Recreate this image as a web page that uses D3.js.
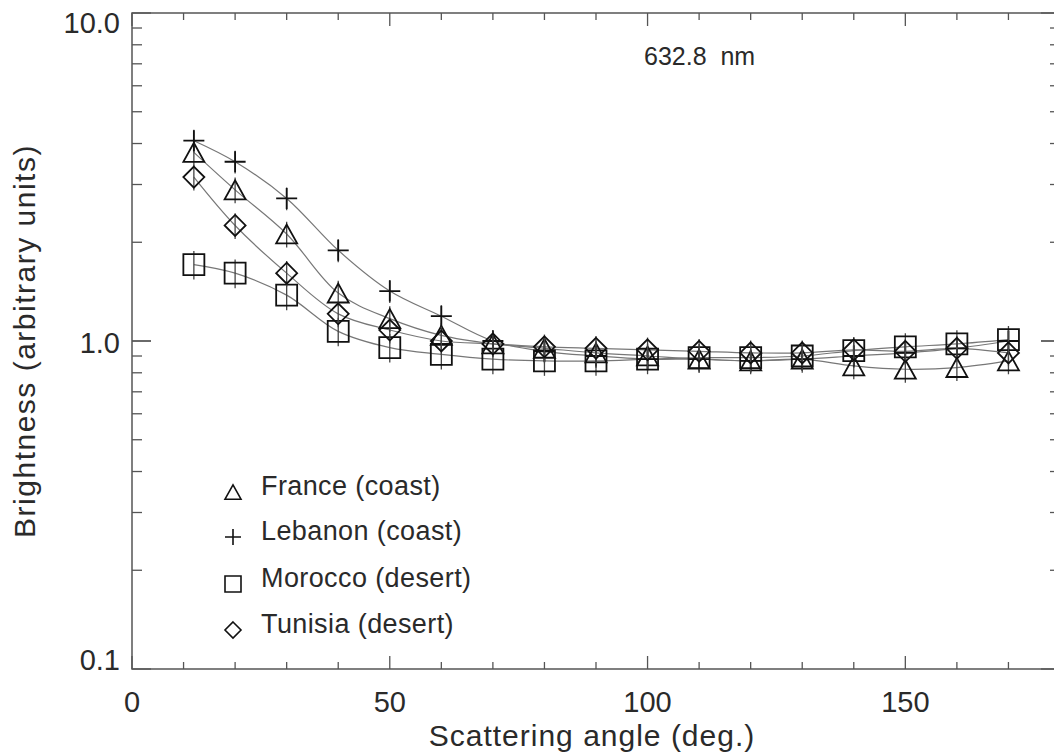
<!DOCTYPE html>
<html>
<head>
<meta charset="utf-8">
<script src="https://cdn.jsdelivr.net/npm/d3@7"></script>
<style>
  body { margin: 0; background: #fff; }
  svg { display: block; }
  text { font-family: "Liberation Sans", Arial, sans-serif; fill: #2a2a2a; }
</style>
</head>
<body>
<div class="chart"></div>
<script>
// scattering angles (deg.)
var angles = [12, 20, 30, 40, 50, 60, 70, 80, 90, 100, 110, 120, 130, 140, 150, 160, 170];

// brightness, one array per site
var france  = [3.76, 2.89, 2.12, 1.40, 1.17, 1.04, 0.98, 0.95, 0.92, 0.90, 0.88, 0.87, 0.88, 0.84, 0.82, 0.83, 0.87];
var lebanon = [4.08, 3.52, 2.72, 1.89, 1.42, 1.19, 1.00, 0.93, 0.90, 0.88, 0.88, 0.87, 0.88, 0.90, 0.92, 0.95, 1.00];
var morocco = [1.71, 1.61, 1.38, 1.07, 0.955, 0.91, 0.88, 0.87, 0.87, 0.88, 0.89, 0.89, 0.90, 0.935, 0.96, 0.98, 1.01];
var tunisia = [3.16, 2.25, 1.61, 1.21, 1.08, 1.00, 0.98, 0.96, 0.95, 0.94, 0.93, 0.92, 0.92, 0.94, 0.93, 0.95, 0.92];

var seriesNames   = ["France (coast)", "Lebanon (coast)", "Morocco (desert)", "Tunisia (desert)"];
var seriesSymbols = ["triangle", "plus", "square", "diamond"];
var seriesRelErr  = [0.09, 0.08, 0.10, 0.09];   // relative half-length of the error bars

var xTicks = [0, 50, 100, 150];
var yTicks = [0.1, 1.0, 10.0];
var yTickLabels = ["0.1", "1.0", "10.0"];

var series = [france, lebanon, morocco, tunisia].map(function(vals, i) {
  return {
    name: seriesNames[i],
    symbol: seriesSymbols[i],
    err: seriesRelErr[i],
    points: vals.map(function(v, j) { return {angle: angles[j], value: v}; })
  };
});

var W = 1054, H = 756;
var margin = {top: 13, right: -6, bottom: 87, left: 132};
var width = W - margin.left - margin.right,
    height = H - margin.top - margin.bottom;

var xScale = d3.scaleLinear().domain([0, 180]).range([0, width]);
var yScale = d3.scaleLog().domain([0.1, 10]).range([height, 0]);

var svg = d3.select(".chart").append("svg")
    .attr("width", W)
    .attr("height", H)
  .append("g")
    .attr("transform", "translate(" + margin.left + "," + margin.top + ")");

var axisColor = "#555";

// symbol outlines, r = half size
function symbolPath(type, r) {
  if (type == "triangle") return "M" + (-r) + "," + (r * 0.9) + "L" + r + "," + (r * 0.9) + "L0," + (-r * 0.9) + "Z";
  if (type == "square") return "M" + (-r) + "," + (-r) + "H" + r + "V" + r + "H" + (-r) + "Z";
  if (type == "diamond") return "M0," + (-r) + "L" + r + ",0L0," + r + "L" + (-r) + ",0Z";
  return "M" + (-r) + ",0H" + r + "M0," + (-r) + "V" + r;
}

// frame
svg.append("rect")
    .attr("width", width)
    .attr("height", height)
    .style("fill", "none")
    .style("stroke", axisColor)
    .style("stroke-width", 1.5);

// x ticks (bottom and top)
var xMinor = d3.range(0, 181, 10);
xMinor.forEach(function(v) {
  var len = (v % 50 == 0) ? 13 : 7;
  svg.append("line")
      .attr("x1", xScale(v)).attr("x2", xScale(v))
      .attr("y1", height).attr("y2", height - len)
      .style("stroke", axisColor).style("stroke-width", 1.3);
  svg.append("line")
      .attr("x1", xScale(v)).attr("x2", xScale(v))
      .attr("y1", 0).attr("y2", len)
      .style("stroke", axisColor).style("stroke-width", 1.3);
});

svg.selectAll(".xlabel")
    .data(xTicks)
  .enter().append("text")
    .attr("class", "xlabel")
    .attr("x", function(d) { return xScale(d); })
    .attr("y", height + 43)
    .attr("text-anchor", "middle")
    .style("font-size", "29px")
    .text(function(d) { return d; });

// y ticks (left and right), log minor ticks
var yMinor = [];
[0.1, 1].forEach(function(dec) {
  for (var k = 1; k <= 10; k++) yMinor.push(dec * k);
});
yMinor.forEach(function(v) {
  var major = yTicks.some(function(t) { return Math.abs(t - v) < 1e-9; });
  var len = major ? 19 : 10;
  var yy = yScale(v);
  svg.append("line")
      .attr("x1", 0).attr("x2", len)
      .attr("y1", yy).attr("y2", yy)
      .style("stroke", axisColor).style("stroke-width", 1.3);
  svg.append("line")
      .attr("x1", width).attr("x2", width - len)
      .attr("y1", yy).attr("y2", yy)
      .style("stroke", axisColor).style("stroke-width", 1.3);
});

svg.selectAll(".ylabel")
    .data(yTicks)
  .enter().append("text")
    .attr("class", "ylabel")
    .attr("x", -12)
    .attr("y", function(d) { return Math.max(20, Math.min(height + 1, yScale(d) + 12)); })
    .attr("text-anchor", "end")
    .style("font-size", "29px")
    .text(function(d, i) { return yTickLabels[i]; });

// axis titles
svg.append("text")
    .attr("x", xScale(90) - 4)
    .attr("y", height + 77)
    .attr("text-anchor", "middle")
    .style("font-size", "30px")
    .style("letter-spacing", "1px")
    .text("Scattering angle (deg.)");

svg.append("text")
    .attr("transform", "rotate(-90)")
    .attr("x", -height / 2)
    .attr("y", -97)
    .attr("text-anchor", "middle")
    .style("font-size", "30px")
    .style("letter-spacing", "1.5px")
    .text("Brightness (arbitrary units)");

// wavelength label
svg.append("text")
    .attr("x", 512)
    .attr("y", 52)
    .style("font-size", "25px")
    .style("white-space", "pre")
    .text("632.8  nm");

// smooth lines through each series
var line = d3.line()
    .x(function(d) { return xScale(d.angle); })
    .y(function(d) { return yScale(d.value); })
    .curve(d3.curveCatmullRom);

svg.selectAll(".line")
    .data(series)
  .enter().append("path")
    .attr("class", "line")
    .attr("d", function(d) { return line(d.points); })
    .style("fill", "none")
    .style("stroke", "#777")
    .style("stroke-width", 1.2);

// error bars and symbols
series.forEach(function(s) {
  var g = svg.append("g");
  g.selectAll(".err")
      .data(s.points)
    .enter().append("line")
      .attr("class", "err")
      .attr("x1", function(d) { return xScale(d.angle); })
      .attr("x2", function(d) { return xScale(d.angle); })
      .attr("y1", function(d) { return yScale(d.value * (1 + s.err)); })
      .attr("y2", function(d) { return yScale(d.value * (1 - s.err)); })
      .style("stroke", "#444")
      .style("stroke-width", 1.3);
  g.selectAll(".dot")
      .data(s.points)
    .enter().append("path")
      .attr("class", "dot")
      .attr("transform", function(d) { return "translate(" + xScale(d.angle) + "," + yScale(d.value) + ")"; })
      .attr("d", symbolPath(s.symbol, 10.5))
      .style("fill", "none")
      .style("stroke", "#111")
      .style("stroke-width", 1.8);
});

// legend
var legendRows = [495, 540, 587, 633];
series.forEach(function(s, i) {
  var by = legendRows[i] - margin.top;
  svg.append("path")
      .attr("transform", "translate(" + (233 - margin.left) + "," + (by - 3) + ")")
      .attr("d", symbolPath(s.symbol, 8))
      .style("fill", "none")
      .style("stroke", "#111")
      .style("stroke-width", 1.6);
  svg.append("text")
      .attr("x", 261 - margin.left)
      .attr("y", by)
      .style("font-size", "27px")
      .style("letter-spacing", "0.4px")
      .text(s.name);
});
</script>
</body>
</html>
